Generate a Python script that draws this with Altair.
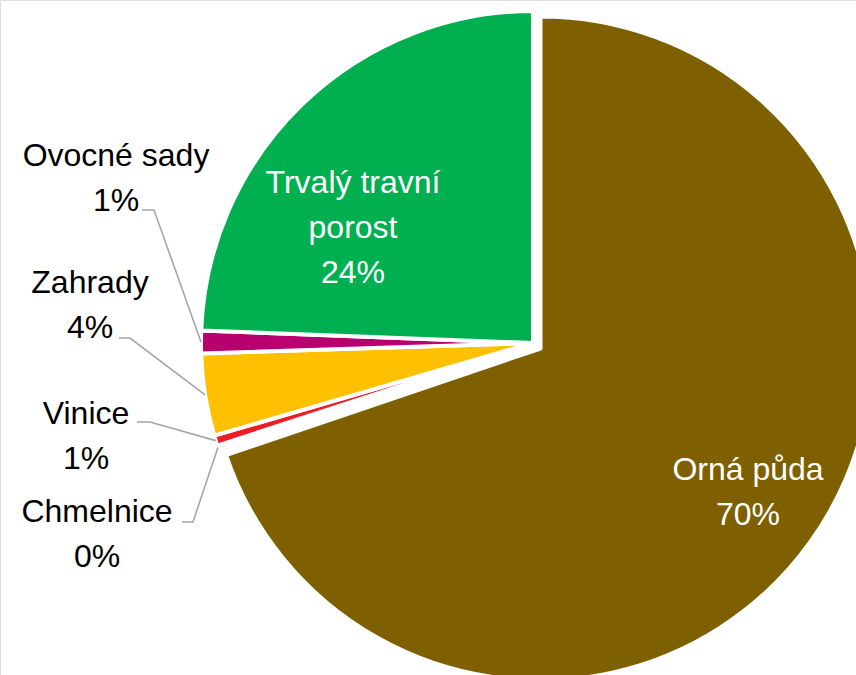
import math
import altair as alt
import pandas as pd

# ---- data ----
categories = ["Orná půda", "Chmelnice", "Vinice", "Zahrady", "Ovocné sady", "Trvalý travní porost"]
values = [69.8, 0.2, 0.5, 4.0, 1.1, 24.4]
label_texts = ["Orná půda\n70%", "Chmelnice\n0%", "Vinice\n1%", "Zahrady\n4%",
               "Ovocné sady\n1%", "Trvalý travní\nporost\n24%"]
colors = ["#7F6000", "#92D050", "#EE1C25", "#FFC000", "#B8006F", "#00B050"]

# ---- layout (pixels) ----
CX, CY, R = 533, 343, 332
EXPLODE_DX, EXPLODE_DY = 7.5, 5.5
label_x = [748, 97, 86, 90, 116, 353]
label_y = [480, 522, 424, 293, 166, 193]
inside = [True, False, False, False, False, True]
leader_start = {1: (182, 522), 2: (137, 422), 3: (119, 338), 4: (142, 210)}
leader_elbow = {1: (193, 522), 2: (150, 422), 3: (130, 338), 4: (154, 210)}

total = sum(values)
starts, ends = [], []
acc = 0.0
for v in values:
    starts.append(acc)
    acc += v
    ends.append(acc)

arcs = pd.DataFrame({"cat": categories, "start": starts, "end": ends})

theta_scale = alt.Scale(domain=[0, total], range=[0, 2 * math.pi])
color_scale = alt.Scale(domain=categories, range=colors)

def arc_layer(df, cx, cy):
    return alt.Chart(df).mark_arc(
        radius=R, x=cx, y=cy, stroke="white", strokeWidth=4, strokeJoin="round"
    ).encode(
        theta=alt.Theta("start:Q", scale=theta_scale),
        theta2="end:Q",
        color=alt.Color("cat:N", scale=color_scale, legend=None),
    )

arc_main = arc_layer(arcs[arcs["cat"] != categories[0]], CX, CY)
arc_orna = arc_layer(arcs[arcs["cat"] == categories[0]], CX + EXPLODE_DX, CY + EXPLODE_DY)

# leader lines: label -> elbow -> slice edge (mid angle)
rows = []
for i, (sx, sy) in leader_start.items():
    mid = (starts[i] + ends[i]) / 2 / total * 2 * math.pi
    ex = CX + R * math.sin(mid)
    ey = CY - R * math.cos(mid)
    ez = leader_elbow[i]
    for k, (px, py) in enumerate([(sx, sy), ez, (ex, ey)]):
        rows.append({"cat": categories[i], "k": k, "px": px, "py": py})
leaders = pd.DataFrame(rows)

leader_layer = alt.Chart(leaders).mark_line(color="#A6A6A6", strokeWidth=1.6).encode(
    x=alt.X("px:Q", scale=None, axis=None),
    y=alt.Y("py:Q", scale=None, axis=None),
    detail="cat:N",
    order="k:Q",
)

labels = pd.DataFrame({"txt": label_texts, "lx": label_x, "ly": label_y, "inside": inside})

def text_layer(df, col):
    return alt.Chart(df).mark_text(
        font="Liberation Sans", fontSize=32, lineBreak="\n", lineHeight=45,
        align="center", baseline="alphabetic", color=col
    ).encode(
        x=alt.X("lx:Q", scale=None, axis=None),
        y=alt.Y("ly:Q", scale=None, axis=None),
        text="txt:N",
    )

txt_in = text_layer(labels[labels["inside"]], "white")
txt_out = text_layer(labels[~labels["inside"]], "black")

chart = alt.layer(arc_orna, arc_main, leader_layer, txt_in, txt_out).properties(
    width=856, height=675, padding=0, autosize=alt.AutoSizeParams(type="none")
).configure_view(stroke=None).configure(background="white")

chart.save("out.html", embed_options={"renderer": "svg", "actions": False})
